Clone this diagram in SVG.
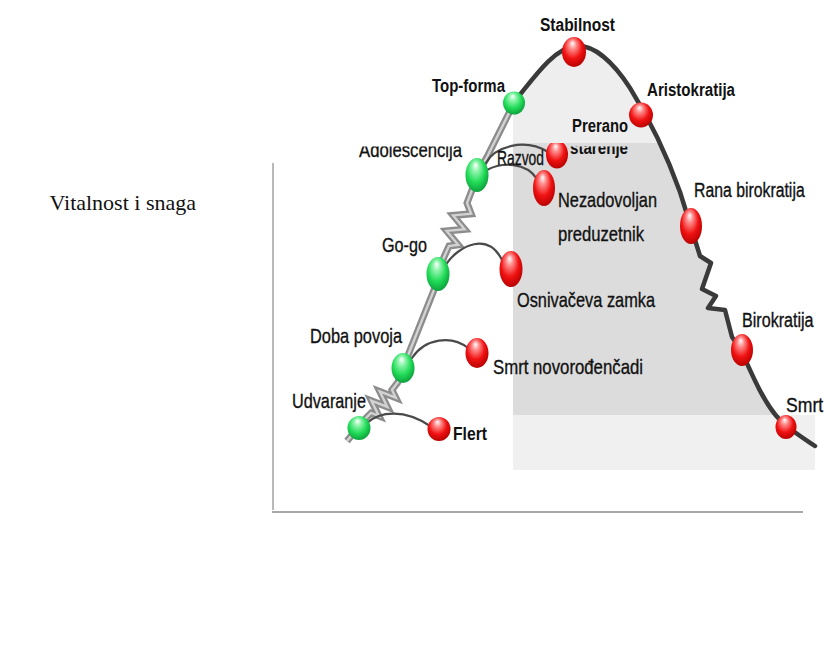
<svg xmlns="http://www.w3.org/2000/svg" width="825" height="664" viewBox="0 0 825 664">
  <style>
    .lbl { font-family: "Liberation Sans Narrow", "Liberation Sans", Arial, sans-serif; fill: #111; }
    .b { font-weight: bold; font-size: 18px; }
    .r { font-size: 21px; stroke: #111; stroke-width: 0.35; }
    .axis { stroke: #a8a8a8; fill: none; }
    .arc { fill: none; stroke: #4a4a4a; stroke-width: 2.2; stroke-linecap: round; }
    .main { fill: none; stroke: #3a3a3a; stroke-width: 4.5; stroke-linejoin: round; stroke-linecap: round; }
    .tube { fill: none; stroke: #8c8c8c; stroke-width: 7; stroke-linejoin: miter; }
    .tubehi { fill: none; stroke: #d2d2d2; stroke-width: 2.4; stroke-linejoin: miter; }
    .red { fill: url(#red); }
    .green { fill: url(#green); }
  </style>
  <defs>
    <radialGradient id="red" cx="0.45" cy="0.42" r="0.62" fx="0.44" fy="0.2">
      <stop offset="0" stop-color="#ffffff"/>
      <stop offset="0.25" stop-color="#ff8a8a"/>
      <stop offset="0.62" stop-color="#f01212"/>
      <stop offset="1" stop-color="#b30000"/>
    </radialGradient>
    <radialGradient id="green" cx="0.45" cy="0.42" r="0.62" fx="0.44" fy="0.2">
      <stop offset="0" stop-color="#ffffff"/>
      <stop offset="0.25" stop-color="#8ff5ad"/>
      <stop offset="0.62" stop-color="#22dc58"/>
      <stop offset="1" stop-color="#0a9a3a"/>
    </radialGradient>
    <!-- area under the life-cycle arch -->
    <clipPath id="underArch">
      <path d="M513,96 L519,96 C535,76 555,48 575,46 C595,44 615,65 630,88 C645,112 665,150 680,192 L700,256 L711,263 L702,289 L716,296 L708,308 L725,310 L732,337 L741,350 C752,375 765,405 780,420 C790,430 803,438 815,446 L815,470 L513,470 Z"/>
    </clipPath>
    <clipPath id="belowBand">
      <rect x="0" y="143" width="825" height="521"/>
    </clipPath>
    <clipPath id="belowBandLow">
      <rect x="0" y="146.5" width="825" height="518"/>
    </clipPath>
  </defs>

  <rect width="825" height="664" fill="#ffffff"/>

  <!-- shaded backdrop -->
  <g id="backdrop">
    <rect x="513" y="0" width="310" height="145" fill="#eeeeee" clip-path="url(#underArch)"/>
    <rect x="513" y="143" width="310" height="272" fill="#dcdcdc" clip-path="url(#underArch)"/>
    <rect x="513" y="415" width="302" height="55" fill="#f0f0f0"/>
  </g>

  <!-- axes -->
  <g id="axes">
    <line class="axis" x1="273" y1="163" x2="273" y2="510" stroke-width="1.6"/>
    <line class="axis" x1="272" y1="512" x2="803" y2="512" stroke-width="2"/>
  </g>

  <text id="y-label" x="196" y="210" text-anchor="end" font-family="'Liberation Serif', 'Times New Roman', serif" font-size="22" fill="#111">Vitalnost i snaga</text>

  <g id="connectors">
    <!-- growth path with springs -->
    <path class="tube" d="M347,441 L366,418 L371,413 L379,416.1 L371.4,400.7 L387.4,406.9 L379.8,391.5 L395.8,397.7 L392,390 L398,382 L403,368 L434,290 L438,274 L444,257 L449,246 L458.2,244.8 L446.6,230.9 L464.7,229.3 L453.1,215.4 L471.2,213.8 L467,203 L472,190 L477,175 L487,157 L514,103"/>
    <path class="tubehi" d="M347,441 L366,418 L371,413 L379,416.1 L371.4,400.7 L387.4,406.9 L379.8,391.5 L395.8,397.7 L392,390 L398,382 L403,368 L434,290 L438,274 L444,257 L449,246 L458.2,244.8 L446.6,230.9 L464.7,229.3 L453.1,215.4 L471.2,213.8 L467,203 L472,190 L477,175 L487,157 L514,103"/>
    <!-- aging path -->
    <path class="main" d="M519,96 C535,76 555,48 575,46 C595,44 615,65 630,88 C645,112 665,150 680,192 L700,256 L711,263 L702,289 L716,296 L708,308 L725,310 L732,337 L741,350 C752,375 765,405 780,420 C790,430 803,438 815,446"/>
    <!-- failure branches -->
    <path class="arc" d="M367,423 C380,411 405,409 430,426"/>
    <path class="arc" d="M412,358 C425,338 452,335 468,348"/>
    <path class="arc" d="M447,263 C460,245 488,232 502,260"/>
    <path class="arc" d="M486,163 C495,146 525,138 548,152" clip-path="url(#belowBand)"/>
    <path class="arc" d="M487,170 C502,162 526,162 537,179"/>
  </g>

  <g id="udvaranje">
    <ellipse class="green" cx="359" cy="428" rx="11.5" ry="12"/>
    <text class="lbl r" x="292" y="408" font-size="20" textLength="74" lengthAdjust="spacingAndGlyphs">Udvaranje</text>
  </g>
  <g id="flert">
    <ellipse class="red" cx="439" cy="429" rx="11.5" ry="12"/>
    <text class="lbl b" x="453" y="440" font-size="16" textLength="34" lengthAdjust="spacingAndGlyphs">Flert</text>
  </g>
  <g id="doba-povoja">
    <ellipse class="green" cx="403" cy="368" rx="11.5" ry="15"/>
    <text class="lbl r" x="310" y="343" font-size="20" textLength="92" lengthAdjust="spacingAndGlyphs">Doba povoja</text>
  </g>
  <g id="smrt-novorodjencadi">
    <ellipse class="red" cx="477" cy="353" rx="11.5" ry="15"/>
    <text class="lbl r" x="493" y="374" font-size="20" textLength="150" lengthAdjust="spacingAndGlyphs">Smrt novorođenčadi</text>
  </g>
  <g id="go-go">
    <ellipse class="green" cx="438" cy="274" rx="11.5" ry="17"/>
    <text class="lbl r" x="382" y="252" textLength="45" lengthAdjust="spacingAndGlyphs">Go-go</text>
  </g>
  <g id="osnivaceva-zamka">
    <ellipse class="red" cx="511" cy="269" rx="11.5" ry="18"/>
    <text class="lbl r" x="517" y="307" textLength="138" lengthAdjust="spacingAndGlyphs">Osnivačeva zamka</text>
  </g>
  <g id="adolescencija">
    <ellipse class="green" cx="477" cy="175" rx="11.5" ry="17"/>
    <text class="lbl r" x="359" y="157" textLength="103" lengthAdjust="spacingAndGlyphs" clip-path="url(#belowBandLow)">Adolescencija</text>
  </g>
  <g id="razvod">
    <text class="lbl r" x="497" y="165" font-size="19" textLength="47" lengthAdjust="spacingAndGlyphs">Razvod</text>
  </g>
  <g id="prerano-starenje">
    <ellipse class="red" cx="557" cy="154.5" rx="11" ry="14" clip-path="url(#belowBand)"/>
    <text class="lbl b" x="572" y="132" font-size="17" textLength="56" lengthAdjust="spacingAndGlyphs">Prerano</text>
    <text class="lbl b" x="570" y="154" font-size="19" textLength="58" lengthAdjust="spacingAndGlyphs" clip-path="url(#belowBandLow)">starenje</text>
  </g>
  <g id="nezadovoljan-preduzetnik">
    <ellipse class="red" cx="544" cy="188" rx="11" ry="18"/>
    <text class="lbl r" x="558" y="207" font-size="22" textLength="99" lengthAdjust="spacingAndGlyphs">Nezadovoljan</text>
    <text class="lbl r" x="558" y="241" font-size="22" textLength="86" lengthAdjust="spacingAndGlyphs">preduzetnik</text>
  </g>
  <g id="top-forma">
    <ellipse class="green" cx="514" cy="103" rx="11" ry="11.5"/>
    <text class="lbl b" x="432" y="92" textLength="73" lengthAdjust="spacingAndGlyphs">Top-forma</text>
  </g>
  <g id="stabilnost">
    <ellipse class="red" cx="574" cy="52" rx="12" ry="15"/>
    <text class="lbl b" x="540" y="31" font-size="19" textLength="75" lengthAdjust="spacingAndGlyphs">Stabilnost</text>
  </g>
  <g id="aristokratija">
    <ellipse class="red" cx="641" cy="115" rx="12" ry="12.5"/>
    <text class="lbl b" x="647" y="96" textLength="88" lengthAdjust="spacingAndGlyphs">Aristokratija</text>
  </g>
  <g id="rana-birokratija">
    <ellipse class="red" cx="691" cy="226" rx="11" ry="18"/>
    <text class="lbl r" transform="translate(694,197) scale(0.753,1)" x="0" y="0" font-size="22">Rana birokratija</text>
  </g>
  <g id="birokratija">
    <ellipse class="red" cx="742" cy="350" rx="11" ry="16"/>
    <text class="lbl r" transform="translate(742,327) scale(0.767,1)" x="0" y="0" font-size="22">Birokratija</text>
  </g>
  <g id="smrt">
    <ellipse class="red" cx="786" cy="427" rx="10.5" ry="12"/>
    <text class="lbl r" transform="translate(786,412) scale(0.84,1)" x="0" y="0" font-size="19">Smrt</text>
  </g>
</svg>
